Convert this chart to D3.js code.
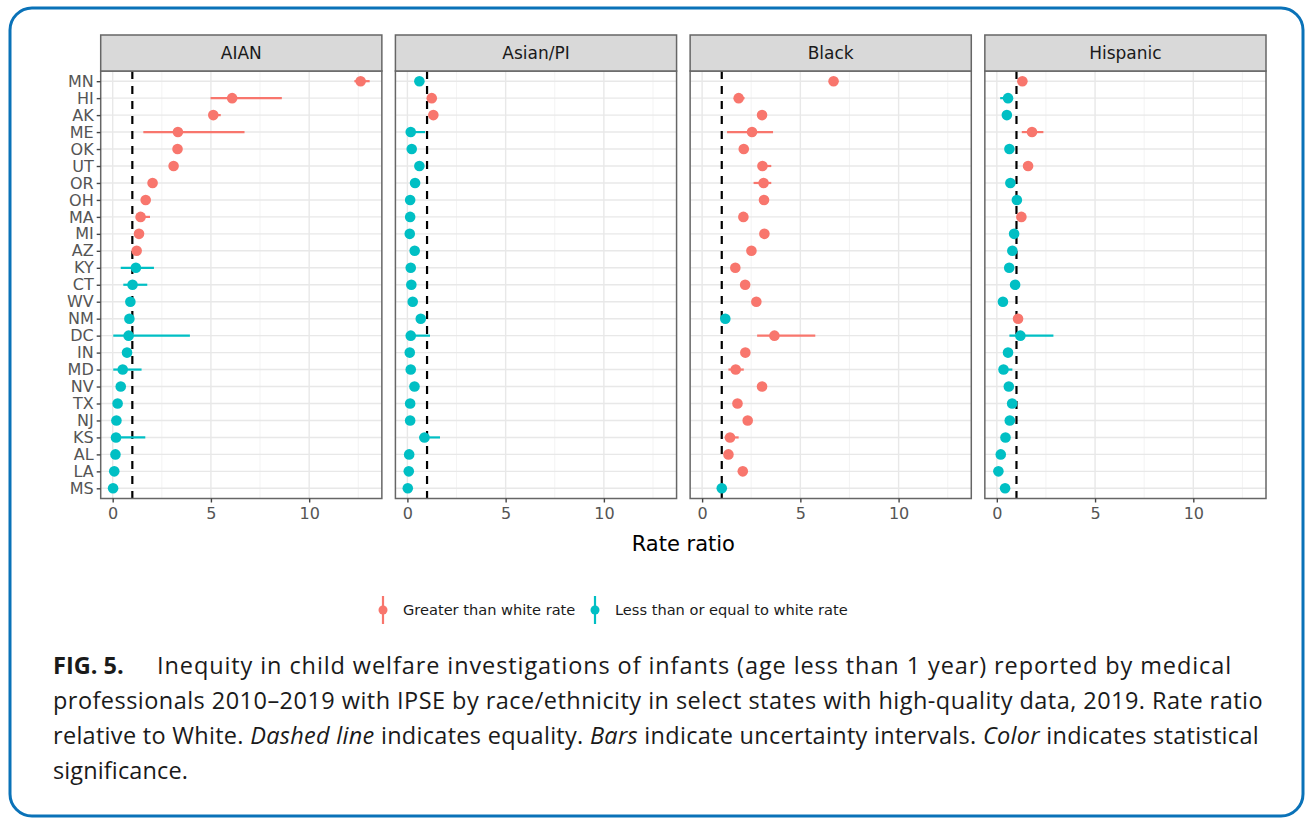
<!DOCTYPE html>
<html>
<head>
<meta charset="utf-8">
<script src="https://cdn.jsdelivr.net/npm/d3@7"></script>
<style>
  body { margin: 0; background: #fff; }
  svg { display: block; }
</style>
</head>
<body>
<svg id="chart" width="1310" height="820"></svg>
<script>
var states = ["MN", "HI", "AK", "ME", "OK", "UT", "OR", "OH", "MA", "MI", "AZ", "KY", "CT",
              "WV", "NM", "DC", "IN", "MD", "NV", "TX", "NJ", "KS", "AL", "LA", "MS"]
var groups = ["AIAN", "Asian/PI", "Black", "Hispanic"]
var xTicks = [0, 5, 10]
var xMinor = [2.5, 7.5, 12.5]

// estimate, lower, upper, and 1 = greater than white rate
var aianEst = [12.62, 6.08, 5.12, 3.32, 3.30, 3.10, 2.03, 1.68, 1.42, 1.34, 1.22, 1.18, 1.01, 0.90, 0.85, 0.81, 0.73, 0.51, 0.41, 0.25, 0.19, 0.17, 0.14, 0.08, 0.02]
var aianLo  = [12.30, 4.98, 4.90, 1.56, 3.15, 2.95, 1.90, 1.55, 1.20, 1.22, 1.12, 0.41, 0.54, 0.80, 0.75, 0.03, 0.63, 0.03, 0.33, 0.18, 0.12, 0.05, 0.08, 0.03, 0.00]
var aianHi  = [13.08, 8.61, 5.50, 6.71, 3.45, 3.25, 2.16, 1.82, 1.90, 1.46, 1.32, 2.10, 1.76, 1.00, 0.95, 3.93, 0.83, 1.47, 0.49, 0.32, 0.26, 1.66, 0.20, 0.13, 0.06]
var aianSig = [1, 1, 1, 1, 1, 1, 1, 1, 1, 1, 1, 0, 0, 0, 0, 0, 0, 0, 0, 0, 0, 0, 0, 0, 0]

var asianEst = [0.61, 1.24, 1.32, 0.17, 0.22, 0.61, 0.39, 0.14, 0.14, 0.12, 0.37, 0.17, 0.20, 0.27, 0.68, 0.17, 0.12, 0.17, 0.36, 0.14, 0.14, 0.87, 0.09, 0.07, 0.02]
var asianLo  = [0.55, 1.15, 1.22, 0.05, 0.17, 0.55, 0.33, 0.10, 0.10, 0.08, 0.31, 0.12, 0.15, 0.22, 0.60, 0.05, 0.08, 0.12, 0.30, 0.10, 0.10, 0.60, 0.05, 0.03, 0.00]
var asianHi  = [0.68, 1.33, 1.42, 0.90, 0.27, 0.67, 0.45, 0.18, 0.18, 0.16, 0.43, 0.22, 0.25, 0.32, 0.76, 1.15, 0.16, 0.22, 0.42, 0.18, 0.18, 1.66, 0.13, 0.11, 0.05]
var asianSig = [0, 1, 1, 0, 0, 0, 0, 0, 0, 0, 0, 0, 0, 0, 0, 0, 0, 0, 0, 0, 0, 0, 0, 0, 0]

var blackEst = [6.69, 1.86, 3.05, 2.54, 2.12, 3.07, 3.13, 3.15, 2.10, 3.17, 2.51, 1.69, 2.19, 2.76, 1.18, 3.68, 2.20, 1.71, 3.05, 1.80, 2.32, 1.42, 1.34, 2.07, 1.00]
var blackLo  = [6.55, 1.65, 2.90, 1.27, 2.00, 2.95, 2.62, 3.02, 1.98, 3.04, 2.38, 1.58, 2.07, 2.64, 1.08, 2.80, 2.08, 1.34, 2.92, 1.68, 2.20, 1.15, 1.22, 1.95, 0.92]
var blackHi  = [6.83, 2.16, 3.30, 3.61, 2.24, 3.52, 3.52, 3.28, 2.22, 3.30, 2.64, 1.80, 2.31, 2.88, 1.28, 5.76, 2.32, 2.12, 3.18, 1.92, 2.44, 1.86, 1.46, 2.19, 1.08]
var blackSig = [1, 1, 1, 1, 1, 1, 1, 1, 1, 1, 1, 1, 1, 1, 0, 1, 1, 1, 1, 1, 1, 1, 1, 1, 0]

var hispEst = [1.30, 0.57, 0.51, 1.79, 0.64, 1.59, 0.69, 1.02, 1.25, 0.88, 0.79, 0.63, 0.93, 0.31, 1.08, 1.20, 0.57, 0.34, 0.61, 0.78, 0.66, 0.44, 0.20, 0.08, 0.42]
var hispLo  = [1.22, 0.17, 0.45, 1.27, 0.58, 1.50, 0.63, 0.95, 1.17, 0.82, 0.73, 0.57, 0.86, 0.25, 1.02, 0.64, 0.51, 0.28, 0.55, 0.72, 0.60, 0.38, 0.15, 0.04, 0.36]
var hispHi  = [1.38, 0.76, 0.57, 2.37, 0.70, 1.68, 0.75, 1.09, 1.33, 0.94, 0.85, 0.69, 1.00, 0.37, 1.14, 2.88, 0.63, 0.79, 0.67, 0.84, 0.72, 0.50, 0.25, 0.12, 0.48]
var hispSig = [1, 0, 0, 1, 0, 1, 0, 0, 1, 0, 0, 0, 0, 0, 1, 0, 0, 0, 0, 0, 0, 0, 0, 0, 0]

var sigLabels = ["Less than or equal to white rate", "Greater than white rate"]

var panelData = {
    "AIAN": [aianEst, aianLo, aianHi, aianSig],
    "Asian/PI": [asianEst, asianLo, asianHi, asianSig],
    "Black": [blackEst, blackLo, blackHi, blackSig],
    "Hispanic": [hispEst, hispLo, hispHi, hispSig]
}

var red = "#F8766D", teal = "#00BFC4"
var color = d3.scaleOrdinal().domain([0, 1]).range([teal, red])
var font = "'DejaVu Sans', sans-serif"

var svg = d3.select("#chart")

// blue frame
svg.append("rect")
    .attr("x", 10).attr("y", 8)
    .attr("width", 1293).attr("height", 808)
    .attr("rx", 22).attr("ry", 22)
    .attr("fill", "none")
    .attr("stroke", "#0a72b8")
    .attr("stroke-width", 3);

var stripTop = 35, plotTop = 71, plotBottom = 498.5

var panelX = d3.scaleBand()
    .domain(groups)
    .range([100.7, 1266])
    .paddingInner(0.046)

var bw = panelX.bandwidth()

var x = d3.scaleLinear()
    .domain([-0.61, 13.7])
    .range([0, bw])

var y = d3.scalePoint()
    .domain(states)
    .range([plotTop, plotBottom])
    .padding(0.6)

groups.forEach(function (g, gi) {
    var d = panelData[g]
    var rows = states.map(function (s, i) {
        return { state: s, est: d[0][i], lo: d[1][i], hi: d[2][i], sig: d[3][i] }
    })

    var panel = svg.append("g")
        .attr("transform", "translate(" + panelX(g) + ",0)")

    // grid
    panel.selectAll(".minor")
        .data(xMinor)
        .join("line")
        .attr("x1", v => x(v)).attr("x2", v => x(v))
        .attr("y1", plotTop).attr("y2", plotBottom)
        .attr("stroke", "#f0f0f0")
        .attr("stroke-width", 0.8);

    panel.selectAll(".major")
        .data(xTicks)
        .join("line")
        .attr("x1", v => x(v)).attr("x2", v => x(v))
        .attr("y1", plotTop).attr("y2", plotBottom)
        .attr("stroke", "#e8e8e8")
        .attr("stroke-width", 1.4);

    panel.selectAll(".hgrid")
        .data(states)
        .join("line")
        .attr("x1", 0).attr("x2", bw)
        .attr("y1", s => y(s)).attr("y2", s => y(s))
        .attr("stroke", "#e8e8e8")
        .attr("stroke-width", 1.4);

    // equality line
    panel.append("line")
        .attr("x1", x(1)).attr("x2", x(1))
        .attr("y1", plotTop).attr("y2", plotBottom)
        .attr("stroke", "#000")
        .attr("stroke-width", 2.2)
        .attr("stroke-dasharray", "8,7");

    // intervals + points
    var pr = panel.selectAll(".pr")
        .data(rows)
        .join("g")

    pr.append("line")
        .attr("x1", r => x(r.lo)).attr("x2", r => x(r.hi))
        .attr("y1", r => y(r.state)).attr("y2", r => y(r.state))
        .attr("stroke", r => color(r.sig))
        .attr("stroke-width", 2.2);

    pr.append("circle")
        .attr("cx", r => x(r.est))
        .attr("cy", r => y(r.state))
        .attr("r", 5.3)
        .attr("fill", r => color(r.sig));

    // border
    panel.append("rect")
        .attr("x", 0).attr("y", plotTop)
        .attr("width", bw).attr("height", plotBottom - plotTop)
        .attr("fill", "none")
        .attr("stroke", "#666")
        .attr("stroke-width", 1.5);

    // strip
    panel.append("rect")
        .attr("x", 0).attr("y", stripTop)
        .attr("width", bw).attr("height", plotTop - stripTop)
        .attr("fill", "#d9d9d9")
        .attr("stroke", "#666")
        .attr("stroke-width", 1.5);

    panel.append("text")
        .attr("x", bw / 2)
        .attr("y", (stripTop + plotTop) / 2)
        .attr("dy", "0.36em")
        .attr("text-anchor", "middle")
        .style("font-family", font)
        .style("font-size", "17px")
        .style("fill", "#1a1a1a")
        .text(g);

    // x axis
    var xAxis = panel.append("g")
        .attr("transform", "translate(0," + plotBottom + ")")
        .call(d3.axisBottom(x).tickValues(xTicks).tickSize(4).tickPadding(5))
    xAxis.select(".domain").remove()
    xAxis.selectAll("line").attr("stroke", "#444").attr("stroke-width", 1.4)
    xAxis.selectAll("text")
        .style("font-family", font)
        .style("font-size", "16px")
        .style("fill", "#555")

    if (gi === 0) {
        var yAxis = panel.append("g")
            .call(d3.axisLeft(y).tickSize(4).tickPadding(3))
        yAxis.select(".domain").remove()
        yAxis.selectAll("line").attr("stroke", "#444").attr("stroke-width", 1.4)
        yAxis.selectAll("text")
            .style("font-family", font)
            .style("font-size", "16px")
            .style("fill", "#555")
    }
})

// axis title
svg.append("text")
    .attr("x", (panelX("AIAN") + panelX("Hispanic") + bw) / 2)
    .attr("y", 551)
    .attr("text-anchor", "middle")
    .style("font-family", font)
    .style("font-size", "21px")
    .style("fill", "#000")
    .text("Rate ratio");

// legend
var legendX = [383, 595]
var legend = svg.selectAll(".leg")
    .data([1, 0])
    .join("g")
    .attr("transform", (d, i) => "translate(" + legendX[i] + ",610)")

legend.append("line")
    .attr("x1", 0).attr("x2", 0)
    .attr("y1", -14).attr("y2", 14)
    .attr("stroke", d => color(d))
    .attr("stroke-width", 2.2);

legend.append("circle")
    .attr("r", 4.5)
    .attr("fill", d => color(d));

legend.append("text")
    .attr("x", 20)
    .attr("dy", "0.36em")
    .style("font-family", font)
    .style("font-size", "14.6px")
    .style("fill", "#1a1a1a")
    .text(d => d === 1 ? sigLabels[1] : sigLabels[0]);

// caption
var capFont = "'Open Sans', sans-serif"
var caption = svg.append("g")
    .style("font-family", capFont)
    .style("font-size", "23.5px")
    .style("fill", "#1a1a1a")

var c1 = caption.append("text").attr("x", 53).attr("y", 674)
c1.append("tspan").style("font-weight", "bold").text("FIG. 5.")
var c1b = c1.append("tspan").attr("x", 157).text("Inequity in child welfare investigations of infants (age less than 1 year) reported by medical")

var c2 = caption.append("text").attr("x", 53).attr("y", 709)
    .text("professionals 2010\u20132019 with IPSE by race/ethnicity in select states with high-quality data, 2019. Rate ratio")

var c3 = caption.append("text").attr("x", 53).attr("y", 744)
var parts = [["relative to White. ", 0], ["Dashed line", 1], [" indicates equality. ", 0], ["Bars", 1],
             [" indicate uncertainty intervals. ", 0], ["Color", 1], [" indicates statistical", 0]]
parts.forEach(function (p) {
    c3.append("tspan").style("font-style", p[1] ? "italic" : "normal").text(p[0])
})

var c4 = caption.append("text").attr("x", 53).attr("y", 779).text("significance.")

// spread the caption lines to the reference line ends
function spread(sel, startX, endX) {
    var node = sel.node()
    var n = node.textContent.length
    var w = node.getComputedTextLength()
    sel.style("letter-spacing", ((endX - startX - w) / n) + "px")
}
spread(c1b, 157, 1232)
spread(c2, 53, 1263)
spread(c3, 53, 1259)
spread(c4, 53, 188)
</script>
</body>
</html>
